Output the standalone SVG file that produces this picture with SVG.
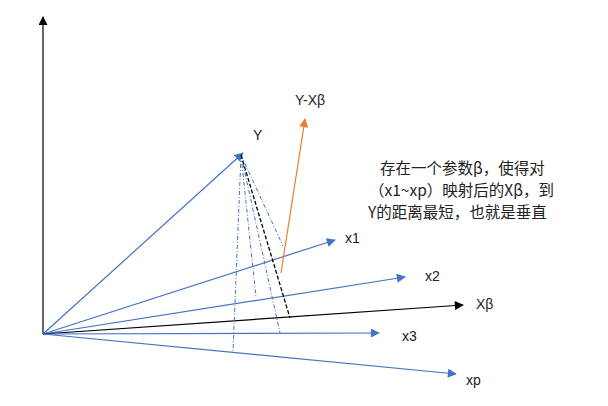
<svg xmlns="http://www.w3.org/2000/svg" width="608" height="406" viewBox="0 0 608 406">
<defs>
<marker id="ab" viewBox="0 0 10 10" refX="9" refY="5" markerWidth="10" markerHeight="9" markerUnits="userSpaceOnUse" orient="auto"><path d="M0,0 L10,5 L0,10 z" fill="#4472C4"/></marker>
<marker id="ak" viewBox="0 0 10 10" refX="9" refY="5" markerWidth="10" markerHeight="9" markerUnits="userSpaceOnUse" orient="auto"><path d="M0,0 L10,5 L0,10 z" fill="#000"/></marker>
<marker id="ao" viewBox="0 0 10 10" refX="9" refY="5" markerWidth="10" markerHeight="9" markerUnits="userSpaceOnUse" orient="auto"><path d="M0,0 L10,5 L0,10 z" fill="#ED7D31"/></marker>
</defs>
<style>
.b{stroke:#4472C4;stroke-width:1.2;fill:none;marker-end:url(#ab)}
.k{stroke:#000;stroke-width:1.2;fill:none;marker-end:url(#ak)}
.o{stroke:#ED7D31;stroke-width:1.2;fill:none;marker-end:url(#ao)}
.dd{stroke:#4472C4;stroke-width:1;fill:none;stroke-dasharray:4 2 1 2}
.bk{stroke:#000;stroke-width:1.3;fill:none;stroke-dasharray:4 2}
.t{font-family:"Liberation Sans","Noto Sans CJK SC",sans-serif;font-size:14px;fill:#222}
.c{font-family:"Noto Sans CJK SC",sans-serif;font-size:15.5px;fill:#222}
</style>
<rect width="608" height="406" fill="#fff"/>
<g id="connectors">
<line class="k" x1="43" y1="334" x2="43" y2="17"/>
<line class="b" x1="43" y1="334" x2="243" y2="153"/>
<line class="b" x1="43" y1="334" x2="335" y2="240"/>
<line class="b" x1="43" y1="334" x2="405" y2="277"/>
<line class="k" x1="43" y1="334" x2="463" y2="305"/>
<line class="b" x1="43" y1="334" x2="379" y2="333"/>
<line class="b" x1="43" y1="334" x2="456" y2="374"/>
<line class="o" x1="281" y1="273" x2="305" y2="119"/>
<line class="dd" x1="241" y1="155" x2="233" y2="352"/>
<line class="dd" x1="241" y1="155" x2="256" y2="297"/>
<line class="dd" x1="241" y1="155" x2="280" y2="333"/>
<line class="dd" x1="241" y1="155" x2="283" y2="246"/>
<line class="bk" x1="241" y1="155" x2="290" y2="318"/>
</g>
<g id="labels">
<text class="t" x="253" y="140">Y</text>
<text class="t" x="295" y="105">Y-Xβ</text>
<text class="t" x="345" y="243">x1</text>
<text class="t" x="425" y="281">x2</text>
<text class="t" x="476" y="309">Xβ</text>
<text class="t" x="402" y="341">x3</text>
<text class="t" x="466" y="385">xp</text>
</g>
<g id="note">
<text class="c" x="380" y="174">存在一个参数β，使得对</text>
<text class="c" x="369" y="196">（x1~xp）映射后的Xβ，到</text>
<text class="c" x="368" y="218">Y的距离最短，也就是垂直</text>
</g>
</svg>
